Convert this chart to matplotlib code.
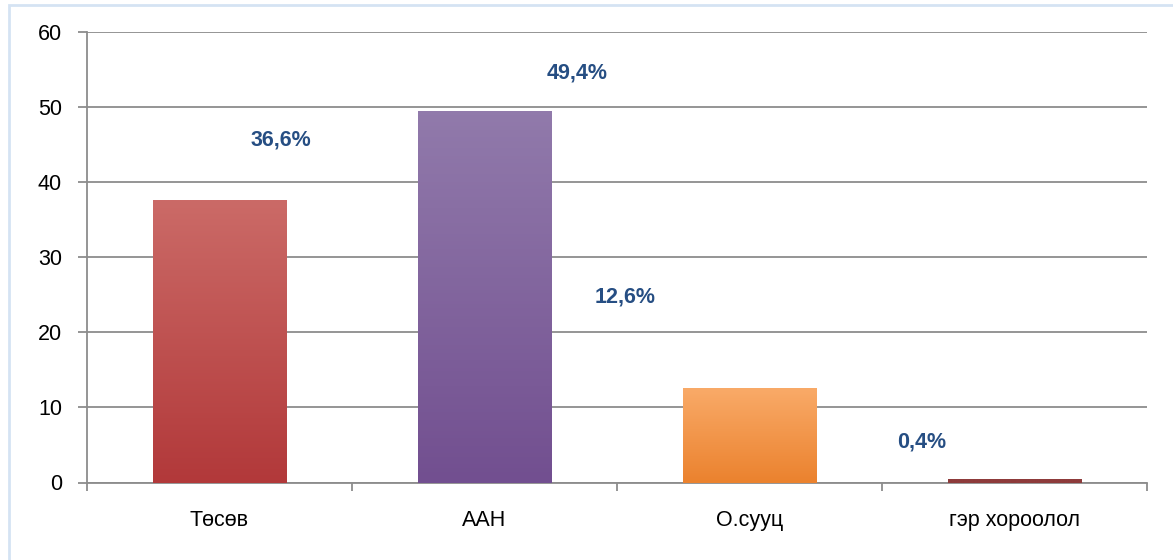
import matplotlib.pyplot as plt
import numpy as np
from matplotlib.colors import LinearSegmentedColormap
from matplotlib.patches import Rectangle

plt.rcParams['font.family'] = ['Liberation Sans', 'DejaVu Sans']

categories = ['Төсөв', 'ААН', 'О.сууц', 'гэр хороолол']
values = [37.6, 49.5, 12.6, 0.4]
labels = ['36,6%', '49,4%', '12,6%', '0,4%']
# where the percent labels sit (category axis units, data y)
label_pos = [(0.23, 45.6), (1.35, 54.5), (1.53, 24.7), (2.65, 5.45)]
bar_top = ['#CB6A67', '#917AAB', '#F9AA68', '#8E3B3B']
bar_bottom = ['#B2393A', '#724F90', '#EB822E', '#8E3B3B']

grid_c = '#8C8C8C'
label_c = '#264E83'

fig = plt.figure(figsize=(11.73, 5.6), dpi=100)
fig.patches.append(Rectangle((9 / 1173, -0.1), 1.2, 1.1 - 5 / 560,
                             transform=fig.transFigure, fill=False,
                             edgecolor='#D5E3F3', linewidth=2))
ax = fig.add_axes([87 / 1173, 1 - 482.5 / 560, 1060 / 1173, 450.5 / 560])

x = np.arange(len(categories))
bars = ax.bar(x, values, width=0.505, color='none', zorder=3)
for b, c0, c1 in zip(bars, bar_top, bar_bottom):
    cmap = LinearSegmentedColormap.from_list('g', [c1, c0])
    bx, by = b.get_x(), b.get_y()
    w, h = b.get_width(), b.get_height()
    img = ax.imshow(np.linspace(0, 1, 100).reshape(-1, 1), cmap=cmap,
                    extent=[bx, bx + w, by, by + h], origin='lower',
                    aspect='auto', zorder=3)
    img.set_clip_path(b)

for lab, (lx, ly) in zip(labels, label_pos):
    ax.text(lx, ly, lab, ha='center', va='center', fontsize=15.5,
            fontweight='bold', color=label_c)

ax.set_xlim(-0.5, len(categories) - 0.5)
ax.set_ylim(0, 60)
ax.set_yticks(np.arange(0, 61, 10))
ax.yaxis.grid(True, color=grid_c, linewidth=1.3)
ax.set_axisbelow(True)

ax.set_xticks(np.arange(-0.5, len(categories), 1))
ax.set_xticklabels([])
ax.tick_params(axis='x', which='major', length=6, width=1.3, color=grid_c, direction='out')
ax.set_xticks(x, minor=True)
ax.set_xticklabels(categories, minor=True)
ax.tick_params(axis='x', which='minor', length=0, pad=20, labelsize=15.5)
ax.tick_params(axis='y', length=6.5, width=1.3, color=grid_c, labelsize=15.5, pad=11.5)

for s in ['top', 'right']:
    ax.spines[s].set_visible(False)
for s in ['left', 'bottom']:
    ax.spines[s].set_color(grid_c)
    ax.spines[s].set_linewidth(1.3)

fig.savefig('out.png', dpi=100)
